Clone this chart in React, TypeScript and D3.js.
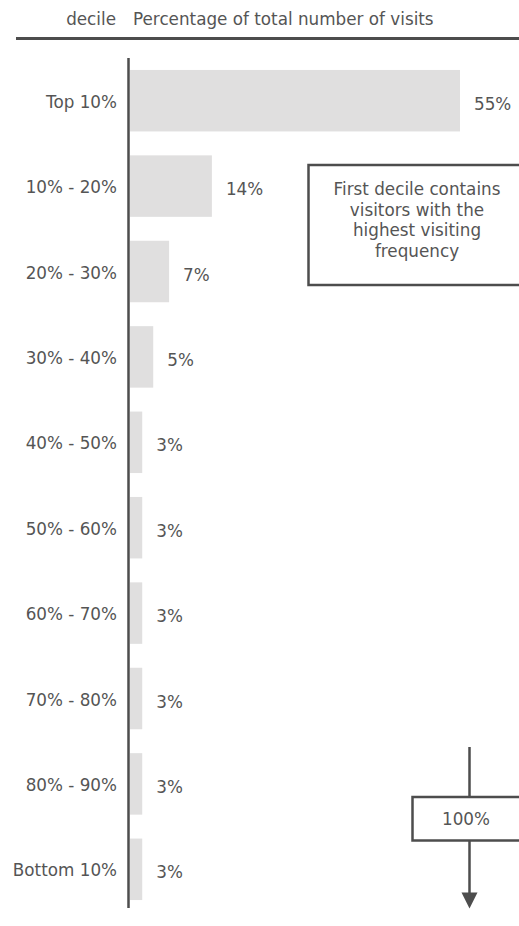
import React from "react";
import * as d3 from "d3";

const categories = [
  "Top 10%",
  "10% - 20%",
  "20% - 30%",
  "30% - 40%",
  "40% - 50%",
  "50% - 60%",
  "60% - 70%",
  "70% - 80%",
  "80% - 90%",
  "Bottom 10%",
];
const values = [55, 14.4, 7.4, 4.8, 3, 3, 3, 3, 3, 3];
const valueLabels = ["55%", "14%", "7%", "5%", "3%", "3%", "3%", "3%", "3%", "3%"];
const headerLeft = "decile";
const headerRight = "Percentage of total number of visits";
const noteLines = ["First decile contains", "visitors with the", "highest visiting", "frequency"];
const totalLabel = "100%";

const W = 519;
const H = 926;
const FONT = "'DejaVu Sans', sans-serif";
const FS = 16.8;
const TEXT = "#555555";
const LINE = "#4d4d4d";
const BAR = "#e0dfdf";

export default function App() {
  const x0 = 130;
  const x = d3.scaleLinear().domain([1, 55]).range([x0, 460]);
  const y = d3
    .scaleBand<string>()
    .domain(categories)
    .range([58, 912])
    .paddingInner(0.28)
    .paddingOuter(0.14);

  return (
    <svg
      width={W}
      height={H}
      style={{ position: "absolute", left: 0, top: 0, fontFamily: FONT }}
    >
      <rect width={W} height={H} fill="#ffffff" />
      {/* header */}
      <text x={116} y={25} textAnchor="end" fontSize={FS} fill={TEXT}>
        {headerLeft}
      </text>
      <text x={133} y={25} fontSize={FS} fill={TEXT}>
        {headerRight}
      </text>
      <line x1={16} x2={W} y1={38.5} y2={38.5} stroke={LINE} strokeWidth={3} />

      {/* bars */}
      {categories.map((c, i) => {
        const yy = y(c)!;
        const bw = y.bandwidth();
        const xe = x(values[i]);
        return (
          <g key={c}>
            <rect x={x0} y={yy} width={xe - x0} height={bw} fill={BAR} />
            <text
              x={117}
              y={yy + bw / 2 + 2}
              textAnchor="end"
              dominantBaseline="middle"
              fontSize={FS}
              fill={TEXT}
            >
              {c}
            </text>
            <text
              x={xe + 14}
              y={yy + bw / 2 + 4}
              dominantBaseline="middle"
              fontSize={FS}
              fill={TEXT}
            >
              {valueLabels[i]}
            </text>
          </g>
        );
      })}

      {/* axis */}
      <line x1={128.5} x2={128.5} y1={58} y2={908} stroke={LINE} strokeWidth={2.5} />

      {/* annotation */}
      <rect x={308.5} y={165} width={230} height={120} fill="none" stroke={LINE} strokeWidth={2.5} />
      {noteLines.map((t, i) => (
        <text
          key={t}
          x={417}
          y={195 + i * 20.5}
          textAnchor="middle"
          fontSize={FS}
          fill={TEXT}
        >
          {t}
        </text>
      ))}

      {/* total arrow */}
      <line x1={469.5} x2={469.5} y1={747} y2={797} stroke={LINE} strokeWidth={2.5} />
      <rect x={412.5} y={797} width={130} height={43.5} fill="#fff" stroke={LINE} strokeWidth={2.5} />
      <text x={466} y={820} textAnchor="middle" dominantBaseline="middle" fontSize={FS} fill={TEXT}>
        {totalLabel}
      </text>
      <line x1={469.5} x2={469.5} y1={840.5} y2={894} stroke={LINE} strokeWidth={2.5} />
      <path d="M461.5,892.5 L477.5,892.5 L469.5,908.5 Z" fill={LINE} />
    </svg>
  );
}
